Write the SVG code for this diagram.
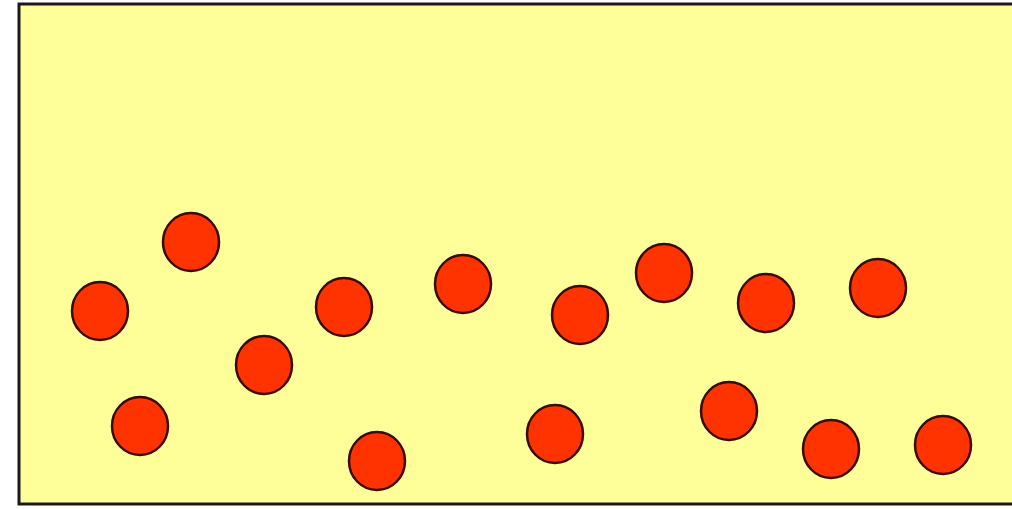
<svg xmlns="http://www.w3.org/2000/svg" width="1012" height="509" viewBox="0 0 1012 509">
<style>
.p{fill:#FF3300;stroke:#3a0a00;stroke-width:2.5}
</style>
<rect x="0" y="0" width="1012" height="509" fill="#ffffff"/>
<rect x="19" y="4" width="1010" height="500" fill="#FFFF99" stroke="#1a1a1a" stroke-width="3"/>
<g id="particles">
<ellipse class="p" cx="191" cy="242" rx="28" ry="29"/>
<ellipse class="p" cx="100" cy="311" rx="28" ry="29"/>
<ellipse class="p" cx="140" cy="426" rx="28" ry="29"/>
<ellipse class="p" cx="264" cy="365" rx="28" ry="29"/>
<ellipse class="p" cx="344" cy="307" rx="28" ry="29"/>
<ellipse class="p" cx="377" cy="461" rx="28" ry="29"/>
<ellipse class="p" cx="463" cy="284" rx="28" ry="29"/>
<ellipse class="p" cx="580" cy="315" rx="28" ry="29"/>
<ellipse class="p" cx="555" cy="434" rx="28" ry="29"/>
<ellipse class="p" cx="664" cy="273" rx="28" ry="29"/>
<ellipse class="p" cx="766" cy="303" rx="28" ry="29"/>
<ellipse class="p" cx="729" cy="411" rx="28" ry="29"/>
<ellipse class="p" cx="878" cy="288" rx="28" ry="29"/>
<ellipse class="p" cx="831" cy="449" rx="28" ry="29"/>
<ellipse class="p" cx="943" cy="445" rx="28" ry="29"/>
</g>
</svg>
